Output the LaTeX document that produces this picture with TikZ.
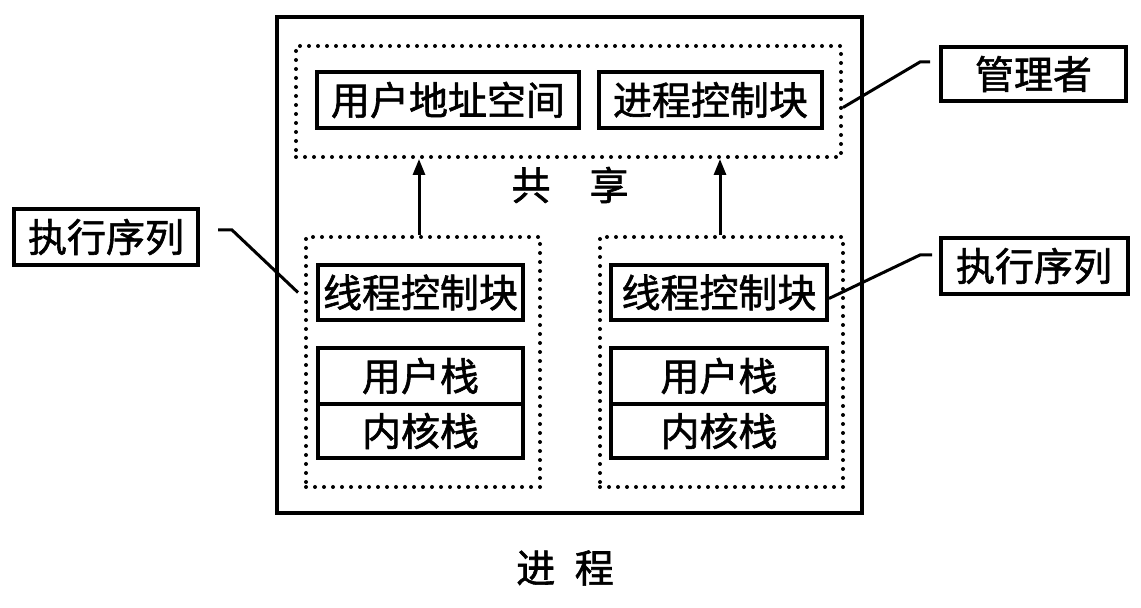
\documentclass[tikz,border=0pt]{standalone}
\usepackage{fontspec}
\setmainfont{Noto Sans CJK SC}
\newfontfamily\heiti[FakeBold=1.5]{Noto Sans CJK SC}
\usepackage{tikz}
\usetikzlibrary{arrows.meta, positioning}

\begin{document}
\begin{tikzpicture}[
    x=0.5pt, y=-0.5pt,
    box/.style={rectangle,draw,line width=2pt,inner sep=0pt,font=\heiti\fontsize{19.5}{22}\selectfont},
    frame/.style={rectangle,draw,line width=2pt},
    group/.style={rectangle,draw,line width=2pt,line cap=round,dash pattern=on 0pt off 4.5pt},
    link/.style={line width=1.5pt},
    arrow/.style={-{Triangle[width=6pt,length=8pt]},line width=1.5pt},
    caption/.style={font=\heiti\fontsize{19.5}{22}\selectfont}
]
\useasboundingbox (0,0) rectangle (1141,608);
\node[frame,minimum width=292.5pt,minimum height=248pt] (proc) at (569.5,265) {};
\node[group,minimum width=272.5pt,minimum height=55.5pt] (share) at (568.5,101.5) {};
\node[box,minimum width=131pt,minimum height=28pt] (uas) at (448,100) {用户地址空间};
\node[box,minimum width=111.5pt,minimum height=28pt] (pcb) at (710.5,100) {进程控制块};
\node[caption] (sharetxt) at (570,185) {共\hspace{1em}享};
% threads
\node[group,minimum width=117pt,minimum height=125pt] (lgrp) at (423,362) {};
\node[box,minimum width=102.5pt,minimum height=27.5pt] (ltcb) at (420.5,292.5) {线程控制块};
\node[box,minimum width=102.5pt,minimum height=28pt] (lus) at (420.5,376) {用户栈};
\node[box,minimum width=102.5pt,minimum height=27pt] (lks) at (420.5,431) {内核栈};
\node[group,minimum width=121.5pt,minimum height=125pt] (rgrp) at (721.5,362) {};
\node[box,minimum width=108pt,minimum height=27.5pt] (rtcb) at (719,292.5) {线程控制块};
\node[box,minimum width=108pt,minimum height=28pt] (rus) at (719,376) {用户栈};
\node[box,minimum width=108pt,minimum height=27pt] (rks) at (719,431) {内核栈};
% labels
\node[box,minimum width=92pt,minimum height=28pt] (lexec) at (106,237) {执行序列};
\node[box,minimum width=93.5pt,minimum height=28pt] (rexec) at (1034,266) {执行序列};
\node[box,minimum width=92.5pt,minimum height=27pt] (mgr) at (1033.5,74) {管理者};
\node[caption] (proctxt) at (565,568) {进\hspace{0.5em}程};
\coordinate (la) at (218,230);
\coordinate (ra) at (932,255);
\coordinate (ma) at (930,62);
\draw[arrow] (lgrp.north -| 419,0) -- (share.south -| 419,0);
\draw[arrow] (rgrp.north -| 720,0) -- (share.south -| 720,0);
\draw[link] (la) -- ++(14,0) -- ([xshift=-3pt]lgrp.west |- ltcb.center);
\draw[link] (ra) -- ++(-12,0) -- ([yshift=-3pt]rtcb.east);
\draw[link] (ma) -- ++(-10,0) -- ([yshift=-3pt]share.east);
\end{tikzpicture}
\end{document}
